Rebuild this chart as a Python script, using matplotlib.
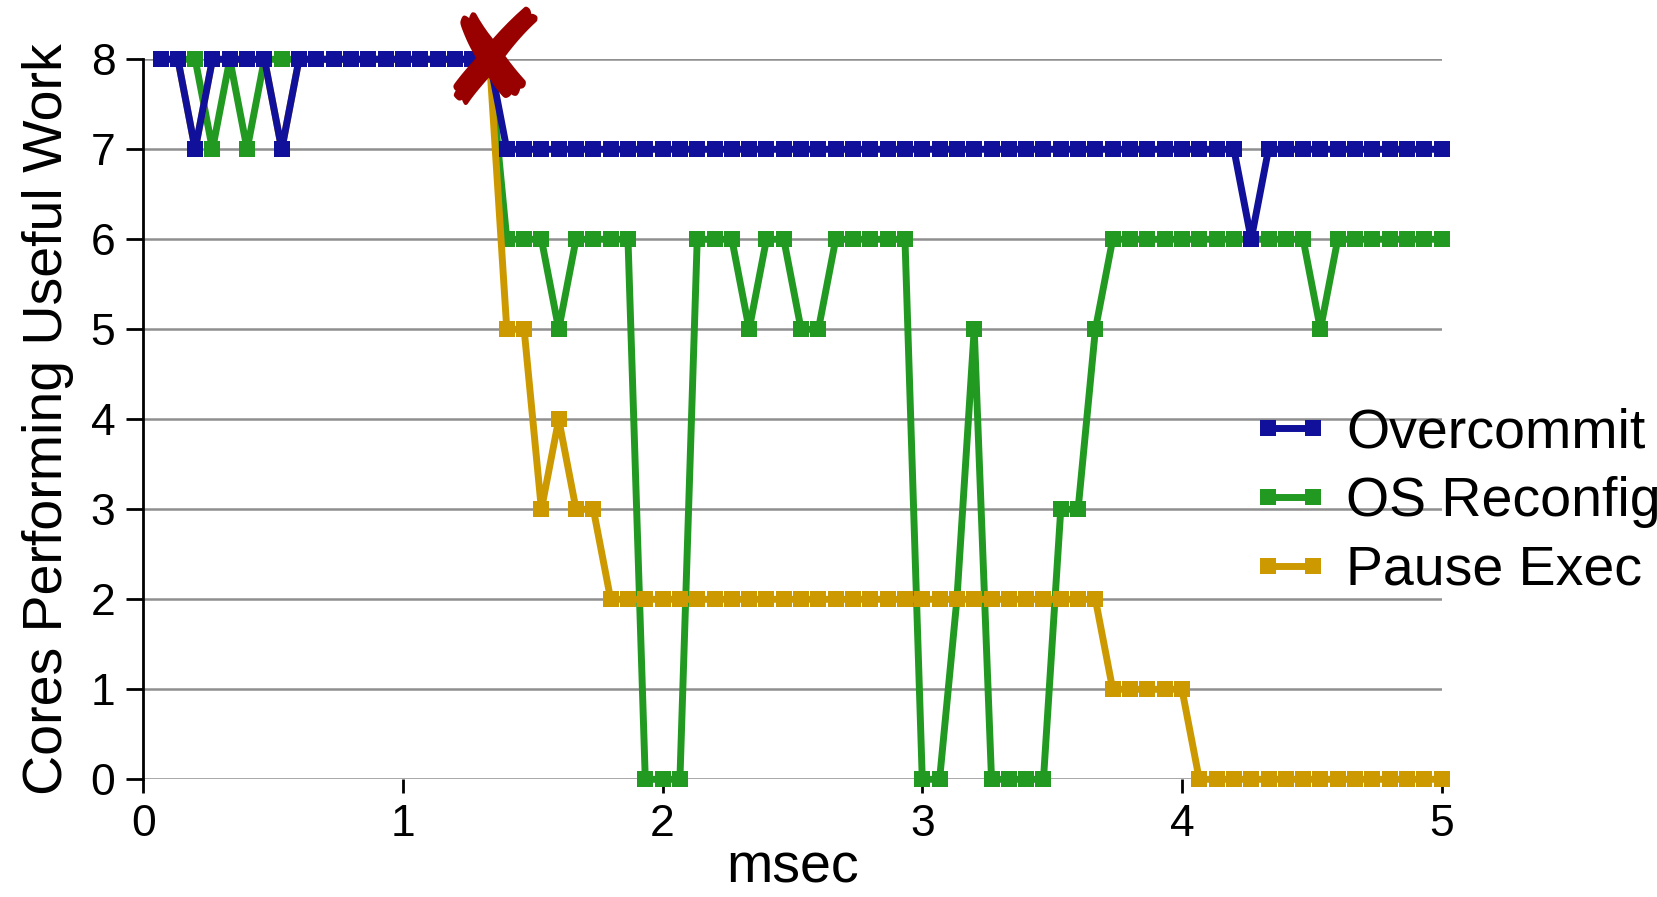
import numpy as np
import matplotlib
matplotlib.use('Agg')
import matplotlib.pyplot as plt

plt.rcParams['font.family'] = ['Liberation Sans', 'DejaVu Sans']

# sample times (15 samples per msec)
times = np.arange(1, 76) / 15.0

# cores doing useful work, one row per msec
overcommit = [8, 8, 7, 8, 8, 8, 8, 7, 8, 8, 8, 8, 8, 8, 8,
              8, 8, 8, 8, 8, 7, 7, 7, 7, 7, 7, 7, 7, 7, 7,
              7, 7, 7, 7, 7, 7, 7, 7, 7, 7, 7, 7, 7, 7, 7,
              7, 7, 7, 7, 7, 7, 7, 7, 7, 7, 7, 7, 7, 7, 7,
              7, 7, 7, 6, 7, 7, 7, 7, 7, 7, 7, 7, 7, 7, 7]
os_reconfig = [8, 8, 8, 7, 8, 7, 8, 8, 8, 8, 8, 8, 8, 8, 8,
               8, 8, 8, 8, 8, 6, 6, 6, 5, 6, 6, 6, 6, 0, 0,
               0, 6, 6, 6, 5, 6, 6, 5, 5, 6, 6, 6, 6, 6, 0,
               0, 2, 5, 0, 0, 0, 0, 3, 3, 5, 6, 6, 6, 6, 6,
               6, 6, 6, 6, 6, 6, 6, 5, 6, 6, 6, 6, 6, 6, 6]
pause_exec = [8, 8, 7, 8, 8, 8, 8, 7, 8, 8, 8, 8, 8, 8, 8,
              8, 8, 8, 8, 8, 5, 5, 3, 4, 3, 3, 2, 2, 2, 2,
              2, 2, 2, 2, 2, 2, 2, 2, 2, 2, 2, 2, 2, 2, 2,
              2, 2, 2, 2, 2, 2, 2, 2, 2, 2, 1, 1, 1, 1, 1,
              0, 0, 0, 0, 0, 0, 0, 0, 0, 0, 0, 0, 0, 0, 0]
labels = ['Overcommit', 'OS Reconfig', 'Pause Exec']
colors = ['#10109a', '#229a22', '#cc9a00']
fail_idx = 19  # sample where the core fails

fig = plt.figure(figsize=(16.58, 8.97), dpi=100)
ax = fig.add_axes([0.0864, 0.1312, 0.7831, 0.8027])

series = [overcommit, os_reconfig, pause_exec]
zorders = [5, 3, 4]
lines = []
for vals, lab, col, z in zip(series, labels, colors, zorders):
    ln, = ax.plot(times, vals, color=col, lw=5, marker='s', ms=11.5,
                  mec=col, mew=0, label=lab, zorder=z, clip_on=False)
    lines.append(ln)

# failure marker
ax.annotate('\u2718', (times[fail_idx], overcommit[fail_idx]),
            xytext=(2, -6), textcoords='offset points', color='#990000',
            fontsize=96, ha='center', va='center', family='DejaVu Sans',
            zorder=10)

ax.set_xlim(0, 5)
ax.set_ylim(0, 8)
ax.set_xticks([0, 1, 2, 3, 4, 5])
ax.set_yticks(range(0, 9))
ax.yaxis.grid(True, color='#8f8f8f', lw=1.8)
ax.set_axisbelow(True)
for s in ['top', 'right', 'bottom']:
    ax.spines[s].set_visible(False)
ax.spines['left'].set_linewidth(2)
ax.tick_params(axis='y', direction='out', length=12, width=2, labelsize=32, pad=8)
ax.tick_params(axis='x', direction='out', length=10, width=2, labelsize=32, pad=8)

ax.set_xlabel('msec', fontsize=40, labelpad=-2)
ax.set_ylabel('Cores Performing Useful Work', fontsize=40, labelpad=12)

fig.legend(handles=lines, loc='center left', bbox_to_anchor=(0.755, 0.44),
           frameon=False, fontsize=40, handlelength=1.4, handletextpad=0.3,
           labelspacing=0.3, borderpad=0, borderaxespad=0, numpoints=2)

plt.savefig('out.png', dpi=100)
